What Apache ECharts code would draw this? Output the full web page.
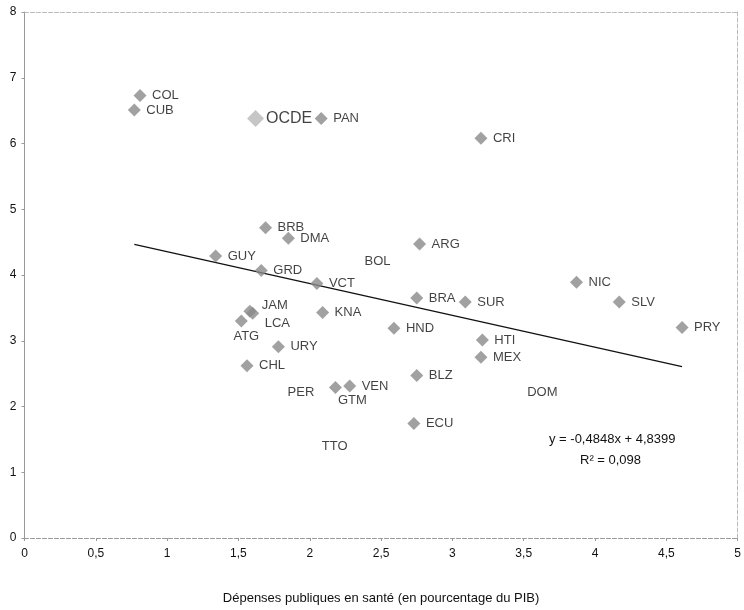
<!DOCTYPE html>
<html>
<head>
<meta charset="utf-8">
<script src="https://cdn.jsdelivr.net/npm/echarts@6/dist/echarts.min.js"></script>
<style>
html,body{margin:0;padding:0;background:#fff;}
#chart{width:744px;height:610px;}
</style>
</head>
<body>
<div id="chart"></div>
<script>
// ---- data ----
var countries = ['COL','CUB','PAN','CRI','BRB','DMA','ARG','GUY','BOL','GRD','VCT','BRA','SUR','JAM','LCA','ATG','KNA','HND','URY','CHL','PER','GTM','VEN','BLZ','ECU','TTO','HTI','MEX','NIC','SLV','PRY','DOM'];
var healthSpend = [0.81,0.77,2.08,3.20,1.69,1.85,2.77,1.34,2.30,1.66,2.05,2.75,3.09,1.58,1.60,1.52,2.09,2.59,1.78,1.56,1.76,2.18,2.28,2.75,2.73,2.00,3.21,3.20,3.87,4.17,4.61,3.44];
var outcome     = [6.73,6.51,6.38,6.08,4.72,4.56,4.47,4.29,4.20,4.07,3.87,3.65,3.59,3.45,3.42,3.30,3.43,3.19,2.91,2.62,2.22,2.29,2.31,2.47,1.74,1.40,3.01,2.75,3.89,3.59,3.20,2.22];
var faintMarkers = ['BOL','PER','TTO','DOM'];
var oecdName = 'OCDE';
var oecdX = 1.62;
var oecdY = 6.38;
var trendSlope = -0.4848;
var trendIntercept = 4.8399;
var trendR2 = '0,098';

// ---- styles ----
var labelTweaks = {
  JAM: {offset:[0,-6]},
  LCA: {offset:[0,10]},
  ATG: {position:'bottom', distance:2, offset:[5,0]},
  GTM: {position:'bottom', distance:0, offset:[17,0]}
};
function fmt(v){ return String(v).replace('.', ','); }

var pts = countries.map(function(n,i){
  var d = {name:n, value:[healthSpend[i], outcome[i]]};
  if (faintMarkers.indexOf(n) >= 0) d.itemStyle = {color:'rgba(255,255,255,0)'};
  if (labelTweaks[n]) d.label = labelTweaks[n];
  return d;
});
var xmin = Math.min.apply(null, healthSpend), xmax = Math.max.apply(null, healthSpend);
var trend = [[xmin, trendSlope*xmin+trendIntercept],[xmax, trendSlope*xmax+trendIntercept]];

var font = 'Liberation Sans, Arial, sans-serif';
var chart = echarts.init(document.getElementById('chart'), null, {renderer:'canvas'});
chart.setOption({
  animation:false,
  backgroundColor:'#fff',
  grid:{left:24.5, right:3, top:12, bottom:68, containLabel:false},
  xAxis:[{
    type:'value', min:0, max:5, interval:0.5,
    name:'Dépenses publiques en santé (en pourcentage du PIB)',
    nameLocation:'middle', nameGap:54,
    nameTextStyle:{fontFamily:font, fontSize:13, color:'#111'},
    axisLine:{show:true, lineStyle:{color:'#999', type:'dashed', width:1}},
    axisTick:{show:true, length:3, lineStyle:{color:'#999'}},
    axisLabel:{fontFamily:font, fontSize:12, color:'#111', margin:10, formatter:function(v){return fmt(v);}},
    splitLine:{show:false}
  },{
    type:'value', min:0, max:5, position:'top',
    axisLine:{show:true, onZero:false, lineStyle:{color:'#bbb', type:'dashed', width:1}},
    axisTick:{show:false}, axisLabel:{show:false}, splitLine:{show:false}
  }],
  yAxis:[{
    type:'value', min:0, max:8, interval:1,
    axisLine:{show:true, lineStyle:{color:'#999', width:1}},
    axisTick:{show:true, length:3, lineStyle:{color:'#999'}},
    axisLabel:{fontFamily:font, fontSize:12, color:'#111', margin:8},
    splitLine:{show:false}
  },{
    type:'value', min:0, max:8, position:'right',
    axisLine:{show:true, onZero:false, lineStyle:{color:'#bbb', type:'dashed', width:1}},
    axisTick:{show:false}, axisLabel:{show:false}, splitLine:{show:false}
  }],
  series:[{
    type:'line', data:trend, symbol:'none', silent:true,
    lineStyle:{color:'#111', width:1.3}, z:1
  },{
    type:'scatter', data:pts, symbol:'diamond', symbolSize:13,
    itemStyle:{color:'#8a8a8a'},
    label:{show:true, position:'right', distance:5.5, formatter:'{b}', fontFamily:font, fontSize:13, color:'#111'},
    z:3
  },{
    type:'scatter', data:[{name:oecdName, value:[oecdX, oecdY]}], symbol:'diamond', symbolSize:17,
    itemStyle:{color:'#b8b8b8'},
    label:{show:true, position:'right', distance:2, formatter:'{b}', fontFamily:font, fontSize:16, color:'#111'},
    z:2
  }],
  graphic:[{
    type:'text', left:549, top:433,
    style:{text:'y = ' + fmt(trendSlope) + 'x + ' + fmt(trendIntercept), font:'13px ' + font, fill:'#111'}
  },{
    type:'text', left:580, top:454,
    style:{text:'R² = ' + trendR2, font:'13px ' + font, fill:'#111'}
  }]
});
</script>
</body>
</html>
